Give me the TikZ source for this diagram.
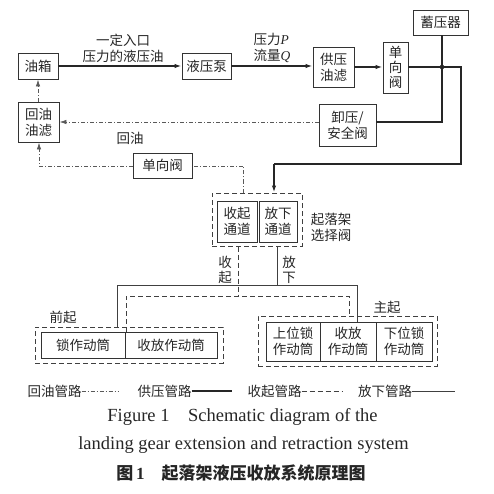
\documentclass[tikz,border=0pt]{standalone}
\usepackage{fontspec}
\setmainfont{Noto Sans CJK SC}
\newfontfamily\lat{Liberation Serif}
\usetikzlibrary{arrows.meta}
\begin{document}
\begin{tikzpicture}[x=1pt,y=-1pt,
  every node/.style={font=\fontsize{13.5}{16}\selectfont, text=black!85},
  box/.style={draw=black!80, line width=0.9pt, inner sep=0pt, align=center},
  grp/.style={draw=black!75, line width=1pt, dash pattern=on 5pt off 3pt, inner sep=0pt},
  lbl/.style={inner sep=0pt, align=center},
  supply/.style={draw=black!85, line width=1.6pt},
  down/.style={draw=black!75, line width=0.9pt},
  up/.style={draw=black!75, line width=1pt, dash pattern=on 5pt off 3pt},
  ret/.style={draw=black!65, line width=0.8pt, dash pattern=on 4pt off 2pt on 1pt off 2pt},
  tip/.style={-{Latex[length=7pt,width=4.5pt]}}
]
\useasboundingbox (0,0) rectangle (493,494);
% boxes
\node[box, minimum width=40pt, minimum height=26pt] (tank) at (38,66) {油箱};
\node[box, minimum width=49pt, minimum height=26pt] (pump) at (206.5,66) {液压泵};
\node[box, minimum width=41pt, minimum height=40pt] (filt) at (333.5,67) {供压\\油滤};
\node[box, minimum width=25pt, minimum height=51pt, font=\fontsize{13.5}{15}\selectfont] (chk) at (395.5,67.5) {单\\向\\阀};
\node[box, minimum width=55pt, minimum height=25pt] (acc) at (440.5,22.5) {蓄压器};
\node[box, minimum width=57pt, minimum height=42pt] (relief) at (347.5,125) {卸压/\\安全阀};
\node[box, minimum width=41pt, minimum height=40pt] (rfilt) at (38.5,122) {回油\\油滤};
\node[box, minimum width=59pt, minimum height=25pt] (rchk) at (162.5,165.5) {单向阀};
% selector valve
\node[grp, minimum width=90pt, minimum height=53pt] (sel) at (257,219.5) {};
\node[box, minimum width=40pt, minimum height=41pt] (upch) at (237,221.5) {收起\\通道};
\node[box, minimum width=38pt, minimum height=41pt] (dnch) at (278,221.5) {放下\\通道};
% nose gear
\node[grp, minimum width=188pt, minimum height=36pt] (nose) at (129,345) {};
\node[box, minimum width=84pt, minimum height=26pt] (nlock) at (83,345) {锁作动筒};
\node[box, minimum width=92pt, minimum height=26pt] (nact) at (171,345) {收放作动筒};
% main gear
\node[grp, minimum width=179pt, minimum height=50pt] (main) at (347.5,341) {};
\node[box, minimum width=54pt, minimum height=39pt] (mup) at (293,341.5) {上位锁\\作动筒};
\node[box, minimum width=56pt, minimum height=39pt] (mact) at (348,341.5) {收放\\作动筒};
\node[box, minimum width=56pt, minimum height=39pt] (mdn) at (404,341.5) {下位锁\\作动筒};
% labels
\node[lbl] (l1) at (123,48) {一定入口\\压力的液压油};
\node[lbl, align=left] (l2) at (272,48) {压力{\lat\itshape P}\\流量{\lat\itshape Q}};
\node[lbl] (l3) at (130,138) {回油};
\node[lbl] (l4) at (331,227) {起落架\\选择阀};
\node[lbl, font=\fontsize{13.5}{15}\selectfont] (l5) at (225,269.5) {收\\起};
\node[lbl, font=\fontsize{13.5}{15}\selectfont] (l6) at (289,269.5) {放\\下};
\node[lbl] (l7) at (63,317) {前起};
\node[lbl] (l8) at (387,307) {主起};
% coordinates
\coordinate (j) at (442,67);
\coordinate (c1) at (461,67);
\coordinate (c2) at (461,164);
\coordinate (c3) at (274,164);
\coordinate (c4) at (442,122);
\coordinate (r1) at (243,166);
\coordinate (r2) at (39,166);
\coordinate (u1) at (238,296);
\coordinate (u2) at (126,296);
\coordinate (u3) at (349,296);
\coordinate (d1) at (277,285);
\coordinate (d2) at (117,285);
\coordinate (d3) at (357,285);
% supply
\draw[supply, tip] (tank) -- (pump);
\draw[supply, tip] (pump.east) -- (pump.east -| filt.west);
\draw[supply, tip] (filt.east) -- (filt.east -| chk.west);
\draw[supply] (chk.east |- j) -- (c1) -- (c2) -- (c3);
\draw[supply, tip] (c3) -- (c3 |- sel.north);
\draw[supply] (acc.south -| j) -- (c4) -- (c4 -| relief.east);
\fill[black!85] (j) circle (2.3pt);
% return
\draw[ret, tip] (relief.west |- c4) -- (c4 -| rfilt.east);
\draw[ret, tip] (rfilt.north -| tank) -- (tank.south);
\draw[ret] (r1 |- sel.north) -- (r1) -- (rchk.east |- r1);
\draw[ret, tip] (rchk.west |- r2) -- (r2) -- (r2 |- rfilt.south);
% retract
\draw[up] (u1 |- sel.south) -- (u1);
\draw[up] (u2 |- nlock.north) -- (u2) -- (u3) -- (u3 |- main.north);
% extend
\draw[down] (d1 |- sel.south) -- (d1);
\draw[down] (d2 |- nose.north) -- (d2) -- (d3) -- (d3 |- mact.north);
% legend
\node[lbl] (g1) at (54.5,391) {回油管路};
\coordinate (g1e) at (118,391);
\draw[ret] (g1.east) -- (g1e);
\node[lbl] (g2) at (164.5,391) {供压管路};
\coordinate (g2e) at (232,391);
\draw[supply] (g2.east) -- (g2e);
\node[lbl] (g3) at (274.5,391) {收起管路};
\coordinate (g3e) at (343,391);
\draw[up] (g3.east) -- (g3e);
\node[lbl] (g4) at (385,391) {放下管路};
\coordinate (g4e) at (455,391);
\draw[down] (g4.east) -- (g4e);
% caption
\node[lbl, font=\lat\fontsize{18.5}{20}\selectfont] (cap1) at (242.5,417) {Figure 1\quad Schematic diagram of the};
\node[lbl, font=\lat\fontsize{18.5}{20}\selectfont] (cap2) at (243.5,445) {landing gear extension and retraction system};
\node[lbl, font=\bfseries\fontsize{17}{20}\selectfont] (cap3) at (241,473) {图\,{\lat 1}\quad 起落架液压收放系统原理图};
\end{tikzpicture}
\end{document}
